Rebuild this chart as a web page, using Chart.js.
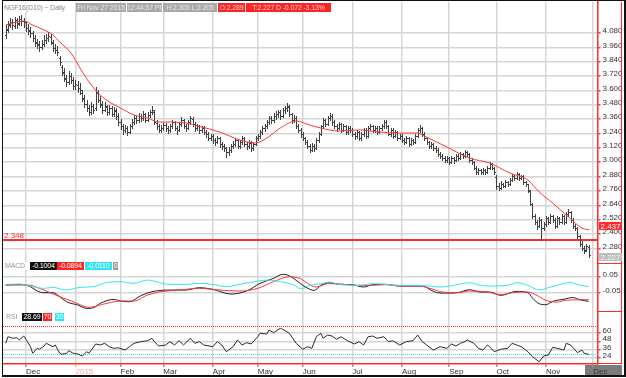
<!DOCTYPE html>
<html>
<head>
<meta charset="utf-8">
<title>NGF16 Daily</title>
<script src="https://cdn.jsdelivr.net/npm/chart.js@4.4.1/dist/chart.umd.min.js"></script>
<style>
  html, body { margin: 0; padding: 0; background: #fff; }
  #wrap { position: relative; width: 626px; height: 378px; overflow: hidden; font-family: "Liberation Sans", Arial, sans-serif; }
  canvas { position: absolute; left: 0; }
  #cPrice { top: 0; }
  #cMacd { top: 264px; }
  #cRsi { top: 312px; }
  .tag { position: absolute; height: 9px; line-height: 9px; font-size: 7px; letter-spacing: -0.15px; white-space: nowrap; overflow: hidden;
         text-align: center; z-index: 3; font-family: "Liberation Sans", Arial, sans-serif; }
  .grey { background: #a9a9a9; color: #e8e8e8; }
  .red { background: #ff2323; color: #ffd2d2; }
  .sub { height: 8px; line-height: 8px; color: #fff; }
  #decBox { position: absolute; left: 585px; top: 365px; width: 37px; height: 10px; background: #7b7b7b; }
  #frame { position: absolute; left: 2px; top: 0; width: 624px; height: 377px; box-sizing: border-box;
           border: 1px solid #111; border-right-width: 2px; border-bottom-width: 2px; z-index: 10; pointer-events: none; }
</style>
</head>
<body>
<div id="wrap">
  <div id="decBox"></div>
  <canvas id="cPrice" width="626" height="264"></canvas>
  <canvas id="cMacd" width="626" height="48"></canvas>
  <canvas id="cRsi" width="626" height="66"></canvas>

  <div class="tag" style="left:4px;top:3px;width:71px;color:#8a8a8a;background:#fff;text-align:left">NGF16(D10) ~ Daily</div>
  <div class="tag grey" style="left:76px;top:3px;width:50px">Fri Nov 27 2015</div>
  <div class="tag grey" style="left:127px;top:3px;width:35px">12:44:57 PM</div>
  <div class="tag grey" style="left:163px;top:3px;width:54px">H:2.305 L:2.205</div>
  <div class="tag red" style="left:218px;top:3px;width:27px">O:2.289</div>
  <div class="tag red" style="left:246px;top:3px;width:85px">T:2.227 D -0.072 -3.13%</div>

  <div class="tag sub" style="left:5px;top:262px;width:24px;color:#9a9a9a;text-align:left;background:#fff">MACD</div>
  <div class="tag sub" id="tMacd" style="left:30px;top:262px;width:27px;background:#111"></div>
  <div class="tag sub" id="tSig" style="left:57px;top:262px;width:27px;background:#ff2323"></div>
  <div class="tag sub" id="tHist" style="left:85px;top:262px;width:27px;background:#2ee6f0"></div>
  <div class="tag sub" style="left:113px;top:262px;width:5px;background:#9a9a9a">0</div>

  <div class="tag sub" style="left:6px;top:313px;width:14px;color:#9a9a9a;text-align:left;background:#fff">RSI</div>
  <div class="tag sub" id="tRsi" style="left:22px;top:313px;width:20px;background:#111"></div>
  <div class="tag sub" id="tHi" style="left:43px;top:313px;width:9px;background:#ff2323"></div>
  <div class="tag sub" id="tLo" style="left:55px;top:313px;width:9px;background:#2ee6f0"></div>

  <div id="frame"></div>
</div>
<script>
// month starts (bar index) and their labels
const monthTicks = [9, 31, 51, 70, 92, 112, 132, 154, 176, 197, 218, 240, 261];
const monthLabels = ['Dec', '2015', 'Feb', 'Mar', 'Apr', 'May', 'Jun', 'Jul', 'Aug', 'Sep', 'Oct', 'Nov', 'Dec'];

const priceTicks = [2.28, 2.40, 2.52, 2.64, 2.76, 2.88, 3.00, 3.12, 3.24, 3.36, 3.48, 3.60, 3.72, 3.84, 3.96, 4.08];
const macdTicks = [0.05, 0, -0.05, -0.1];
const rsiTicks = [60, 48, 36, 24];

// daily bars, Nov 17 2014 .. Nov 27 2015
const opens = [
  4.060,4.110,4.150,4.175,4.140,4.190,4.160,4.195,4.180,4.170,
  4.120,4.100,4.080,4.040,4.000,3.985,3.960,3.990,4.020,4.040,
  4.050,4.000,3.955,3.940,3.870,3.800,3.750,3.700,3.670,3.725,
  3.690,3.640,3.650,3.620,3.580,3.530,3.490,3.450,3.420,3.470,
  3.450,3.580,3.520,3.480,3.440,3.465,3.420,3.450,3.400,3.430,
  3.390,3.335,3.300,3.270,3.285,3.255,3.300,3.335,3.370,3.355,
  3.385,3.370,3.400,3.355,3.395,3.420,3.420,3.330,3.300,3.270,
  3.285,3.310,3.285,3.270,3.300,3.335,3.285,3.270,3.320,3.350,
  3.300,3.290,3.335,3.365,3.320,3.285,3.300,3.270,3.285,3.250,
  3.235,3.200,3.220,3.185,3.170,3.200,3.150,3.135,3.115,3.085,
  3.100,3.135,3.150,3.185,3.135,3.170,3.200,3.150,3.135,3.165,
  3.120,3.150,3.200,3.220,3.250,3.285,3.300,3.335,3.370,3.350,
  3.385,3.400,3.420,3.385,3.435,3.455,3.465,3.400,3.350,3.370,
  3.300,3.270,3.235,3.200,3.170,3.135,3.100,3.135,3.120,3.185,
  3.235,3.300,3.350,3.320,3.370,3.385,3.335,3.300,3.285,3.320,
  3.270,3.300,3.255,3.285,3.270,3.235,3.220,3.250,3.205,3.235,
  3.270,3.220,3.285,3.300,3.270,3.285,3.255,3.285,3.305,3.335,
  3.300,3.235,3.270,3.220,3.250,3.205,3.220,3.185,3.170,3.200,
  3.150,3.185,3.170,3.220,3.270,3.285,3.235,3.200,3.170,3.135,
  3.150,3.120,3.100,3.070,3.050,3.035,3.020,3.035,3.005,3.035,
  3.020,3.050,3.035,3.070,3.050,3.085,3.070,3.020,3.000,2.955,
  2.915,2.935,2.915,2.935,2.920,2.950,2.985,2.950,2.880,2.800,
  2.785,2.815,2.800,2.835,2.820,2.850,2.885,2.870,2.900,2.870,
  2.885,2.835,2.815,2.760,2.650,2.550,2.500,2.470,2.515,2.450,
  2.485,2.530,2.500,2.550,2.515,2.470,2.535,2.500,2.550,2.500,
  2.565,2.585,2.515,2.465,2.450,2.380,2.315,2.285,2.265,2.289
];
const highs = [
  4.150,4.180,4.205,4.195,4.215,4.210,4.220,4.235,4.210,4.185,
  4.160,4.130,4.095,4.060,4.030,4.010,4.020,4.060,4.075,4.090,
  4.070,4.020,3.985,3.970,3.885,3.815,3.790,3.730,3.760,3.750,
  3.710,3.690,3.680,3.660,3.600,3.560,3.520,3.480,3.500,3.490,
  3.630,3.600,3.550,3.510,3.500,3.480,3.480,3.470,3.460,3.450,
  3.410,3.360,3.320,3.310,3.300,3.320,3.360,3.395,3.390,3.410,
  3.400,3.425,3.415,3.420,3.440,3.470,3.440,3.350,3.320,3.310,
  3.330,3.325,3.300,3.320,3.355,3.345,3.300,3.335,3.375,3.365,
  3.320,3.350,3.390,3.380,3.335,3.320,3.315,3.305,3.300,3.270,
  3.250,3.240,3.235,3.200,3.220,3.210,3.170,3.150,3.130,3.125,
  3.155,3.175,3.205,3.195,3.185,3.220,3.210,3.170,3.185,3.180,
  3.170,3.220,3.240,3.270,3.305,3.320,3.355,3.390,3.385,3.410,
  3.425,3.440,3.435,3.455,3.470,3.495,3.480,3.415,3.395,3.385,
  3.320,3.285,3.255,3.215,3.185,3.150,3.160,3.150,3.200,3.250,
  3.315,3.370,3.365,3.390,3.410,3.400,3.350,3.320,3.340,3.330,
  3.320,3.315,3.300,3.300,3.285,3.250,3.270,3.265,3.255,3.285,
  3.285,3.300,3.320,3.315,3.300,3.300,3.300,3.320,3.355,3.350,
  3.315,3.285,3.285,3.270,3.265,3.240,3.235,3.200,3.220,3.215,
  3.200,3.195,3.235,3.290,3.310,3.295,3.250,3.215,3.180,3.170,
  3.160,3.135,3.115,3.085,3.070,3.050,3.055,3.045,3.050,3.045,
  3.070,3.065,3.085,3.080,3.100,3.095,3.080,3.035,3.010,2.965,
  2.950,2.945,2.950,2.945,2.965,3.000,2.995,2.960,2.890,2.830,
  2.840,2.830,2.850,2.845,2.865,2.900,2.895,2.915,2.910,2.895,
  2.890,2.845,2.820,2.770,2.660,2.570,2.520,2.540,2.525,2.500,
  2.550,2.545,2.570,2.560,2.530,2.550,2.545,2.570,2.560,2.585,
  2.605,2.595,2.530,2.480,2.455,2.395,2.340,2.300,2.320,2.305
];
const lows = [
  4.040,4.090,4.130,4.110,4.125,4.120,4.145,4.150,4.130,4.095,
  4.070,4.050,4.010,3.970,3.955,3.930,3.945,3.975,3.995,4.010,
  3.985,3.930,3.915,3.895,3.810,3.730,3.680,3.640,3.655,3.660,
  3.610,3.615,3.590,3.570,3.510,3.460,3.430,3.395,3.405,3.415,
  3.440,3.500,3.460,3.410,3.425,3.395,3.400,3.385,3.390,3.360,
  3.310,3.280,3.240,3.250,3.230,3.245,3.290,3.320,3.330,3.340,
  3.345,3.355,3.335,3.345,3.375,3.400,3.320,3.280,3.250,3.255,
  3.270,3.265,3.245,3.255,3.290,3.270,3.240,3.260,3.305,3.290,
  3.265,3.280,3.320,3.305,3.265,3.270,3.245,3.255,3.235,3.215,
  3.185,3.190,3.165,3.145,3.160,3.130,3.110,3.090,3.045,3.060,
  3.085,3.115,3.135,3.115,3.120,3.155,3.135,3.110,3.120,3.095,
  3.105,3.140,3.185,3.205,3.235,3.260,3.285,3.320,3.330,3.340,
  3.365,3.380,3.365,3.375,3.410,3.430,3.385,3.330,3.335,3.285,
  3.250,3.215,3.185,3.150,3.115,3.085,3.090,3.095,3.110,3.170,
  3.225,3.290,3.300,3.310,3.350,3.315,3.285,3.265,3.275,3.255,
  3.260,3.240,3.240,3.250,3.220,3.195,3.205,3.185,3.190,3.220,
  3.205,3.210,3.270,3.255,3.255,3.240,3.245,3.270,3.290,3.285,
  3.225,3.220,3.205,3.210,3.190,3.195,3.170,3.150,3.160,3.135,
  3.140,3.150,3.160,3.210,3.255,3.220,3.185,3.150,3.120,3.120,
  3.100,3.085,3.055,3.035,3.020,3.000,3.005,2.985,2.995,2.995,
  3.010,3.015,3.025,3.035,3.040,3.050,3.005,2.985,2.940,2.905,
  2.905,2.900,2.905,2.900,2.910,2.940,2.940,2.905,2.780,2.770,
  2.775,2.790,2.790,2.800,2.810,2.840,2.850,2.860,2.855,2.860,
  2.820,2.800,2.755,2.640,2.530,2.480,2.445,2.455,2.348,2.430,
  2.470,2.480,2.490,2.500,2.450,2.460,2.485,2.490,2.480,2.490,
  2.550,2.500,2.450,2.430,2.370,2.300,2.270,2.245,2.255,2.205
];
const closes = [
  4.106,4.156,4.173,4.147,4.189,4.164,4.198,4.181,4.173,4.122,
  4.106,4.081,4.039,4.005,3.980,3.964,3.989,4.022,4.039,4.055,
  4.005,3.955,3.938,3.922,3.838,3.754,3.704,3.671,3.721,3.688,
  3.637,3.654,3.621,3.604,3.537,3.487,3.454,3.420,3.470,3.437,
  3.587,3.520,3.487,3.437,3.470,3.420,3.454,3.403,3.437,3.387,
  3.336,3.303,3.270,3.286,3.253,3.303,3.336,3.370,3.353,3.387,
  3.370,3.403,3.353,3.395,3.420,3.437,3.336,3.303,3.270,3.286,
  3.311,3.286,3.270,3.303,3.336,3.286,3.270,3.320,3.353,3.303,
  3.286,3.336,3.370,3.320,3.286,3.303,3.270,3.286,3.253,3.236,
  3.203,3.219,3.186,3.169,3.203,3.152,3.136,3.119,3.086,3.102,
  3.136,3.152,3.186,3.136,3.169,3.203,3.152,3.136,3.169,3.119,
  3.152,3.203,3.219,3.253,3.286,3.303,3.336,3.370,3.353,3.387,
  3.403,3.420,3.387,3.437,3.454,3.470,3.403,3.353,3.370,3.303,
  3.270,3.236,3.203,3.169,3.136,3.102,3.136,3.119,3.186,3.236,
  3.303,3.353,3.320,3.370,3.387,3.336,3.303,3.286,3.320,3.270,
  3.303,3.253,3.286,3.270,3.236,3.219,3.253,3.203,3.236,3.270,
  3.219,3.286,3.303,3.270,3.286,3.253,3.286,3.303,3.336,3.303,
  3.236,3.270,3.219,3.253,3.203,3.219,3.186,3.169,3.203,3.152,
  3.186,3.169,3.219,3.270,3.286,3.236,3.203,3.169,3.136,3.152,
  3.119,3.102,3.069,3.052,3.035,3.019,3.035,3.002,3.035,3.019,
  3.052,3.035,3.069,3.052,3.086,3.069,3.019,3.002,2.952,2.918,
  2.935,2.918,2.935,2.918,2.952,2.985,2.952,2.918,2.801,2.785,
  2.818,2.801,2.835,2.818,2.852,2.885,2.868,2.902,2.868,2.885,
  2.835,2.818,2.768,2.651,2.551,2.500,2.467,2.517,2.450,2.484,
  2.534,2.500,2.551,2.517,2.467,2.534,2.500,2.551,2.500,2.567,
  2.584,2.517,2.467,2.450,2.383,2.316,2.283,2.262,2.299,2.227
];

// moving average (red), read at these bar indices
const maIdx = [0, 3, 8, 12, 17, 21, 24, 29, 33, 37, 42, 46, 51, 57, 63, 68, 74, 80, 86, 95, 104, 111, 116, 122, 129, 135, 140, 148, 157, 166, 175, 183, 185, 196, 206, 215, 224, 232, 237, 243, 249, 257, 259];
const maVal = [4.147, 4.164, 4.181, 4.147, 4.106, 4.064, 4.005, 3.913, 3.788, 3.671, 3.562, 3.504, 3.454, 3.395, 3.370, 3.336, 3.336, 3.328, 3.300, 3.253, 3.186, 3.161, 3.203, 3.286, 3.345, 3.311, 3.286, 3.261, 3.270, 3.253, 3.244, 3.244, 3.228, 3.127, 3.035, 2.993, 2.910, 2.851, 2.751, 2.659, 2.559, 2.442, 2.437];
const supportLevel = 2.348;

// MACD panel
const macdIdx = [0, 6, 11, 14, 17, 21, 24, 27, 32, 36, 39, 42, 48, 51, 55, 60, 65, 73, 80, 86, 92, 100, 107, 113, 119, 123, 126, 131, 134, 137, 140, 144, 148, 154, 159, 163, 169, 175, 181, 185, 190, 193, 199, 202, 206, 211, 215, 220, 227, 232, 234, 237, 240, 243, 248, 252, 255, 259];
const macdVal = [-0.002, 0.002, -0.012, -0.038, -0.048, -0.048, -0.072, -0.102, -0.122, -0.142, -0.138, -0.112, -0.088, -0.098, -0.102, -0.066, -0.042, -0.032, -0.032, -0.018, -0.028, -0.056, -0.038, 0.008, 0.038, 0.062, 0.054, 0.006, -0.020, -0.034, -0.004, 0.012, 0.002, 0.000, -0.014, 0.000, 0.002, -0.008, -0.008, -0.008, -0.040, -0.050, -0.050, -0.044, -0.030, -0.044, -0.044, -0.064, -0.040, -0.048, -0.080, -0.114, -0.120, -0.100, -0.087, -0.077, -0.090, -0.1004];
const sigIdx = [0, 10, 15, 24, 30, 37, 43, 51, 57, 63, 69, 77, 86, 95, 104, 112, 119, 126, 131, 135, 138, 143, 149, 156, 162, 169, 175, 184, 189, 194, 201, 206, 214, 220, 225, 232, 236, 240, 245, 249, 254, 259];
const sigVal = [-0.002, -0.002, -0.022, -0.072, -0.102, -0.136, -0.118, -0.098, -0.098, -0.062, -0.042, -0.032, -0.022, -0.032, -0.038, -0.022, 0.018, 0.048, 0.036, 0.000, -0.014, 0.006, 0.004, -0.004, -0.004, 0.000, -0.008, -0.008, -0.024, -0.044, -0.048, -0.038, -0.044, -0.060, -0.048, -0.044, -0.064, -0.094, -0.104, -0.093, -0.091, -0.0894];
const histIdx = [0, 6, 12, 17, 21, 27, 33, 39, 45, 51, 57, 63, 67, 72, 80, 86, 92, 98, 104, 112, 116, 122, 128, 131, 135, 140, 144, 148, 157, 163, 169, 175, 184, 193, 199, 206, 211, 216, 223, 227, 232, 237, 242, 246, 251, 254, 259];
const histVal = [0.002, 0.004, -0.012, -0.022, -0.016, -0.032, -0.016, -0.012, 0.014, 0.018, 0.008, 0.028, 0.018, 0.002, 0.002, 0.008, 0.002, -0.012, 0.002, 0.022, 0.028, 0.018, -0.002, -0.024, -0.004, 0.006, 0.016, 0.002, -0.004, 0.006, 0.002, -0.004, -0.004, -0.014, -0.004, 0.012, -0.004, -0.008, -0.004, 0.012, -0.004, -0.032, -0.014, 0.000, 0.013, 0.000, -0.011];

// RSI panel
const rsiIdx = [0,1,3,5,6,8,9,11,12,14,15,17,18,21,22,24,25,27,28,30,32,34,36,37,40,42,44,46,48,50,53,55,57,60,63,65,66,68,71,73,75,77,79,82,84,86,88,92,94,96,98,101,103,105,107,109,112,113,116,117,119,122,123,126,129,132,134,136,138,140,141,143,145,147,149,152,155,157,159,161,163,165,168,170,172,175,178,181,183,185,187,190,193,196,198,200,202,204,205,208,210,212,214,215,217,220,223,225,227,229,232,234,235,237,239,241,243,245,248,249,251,254,256,257,259];
const rsiVal = [45.0,54.7,52.4,53.2,49.9,55.7,50.9,40.0,30.3,37.6,36.2,41.0,45.0,40.0,42.5,30.3,28.8,30.3,34.1,30.3,29.3,26.3,32.6,30.3,44.0,42.5,45.0,40.0,37.6,38.5,35.1,40.0,45.0,47.4,48.8,52.4,47.4,41.0,42.5,47.4,42.5,48.8,42.5,52.4,45.0,47.4,42.5,40.0,47.4,42.5,32.6,40.0,49.9,42.5,45.9,44.0,54.7,59.7,58.7,64.6,60.6,67.1,65.6,59.7,45.0,36.2,40.0,37.6,54.7,59.7,52.4,57.2,55.7,50.9,54.7,48.4,44.0,47.4,42.5,54.7,55.7,52.4,54.7,47.4,48.8,42.5,47.4,48.8,57.2,47.4,42.5,35.1,40.0,37.6,44.0,41.0,45.0,47.4,49.9,45.0,37.6,35.1,42.5,40.0,32.6,36.2,37.6,45.0,42.5,40.0,32.6,25.3,22.9,17.9,26.3,27.8,39.1,37.6,35.1,45.0,42.5,31.2,35.1,30.3,28.69];
const rsiLevels = [70, 30];

const FAMILY = "'Liberation Sans', Arial, sans-serif";
const FONT = { family: FAMILY, size: 8 };
const GRID = '#d5d5d5';
const RED = '#ff2b2b';
const CYAN = '#2ee6f0';
const BAR = '#404040';
const X_MIN = -1.2, X_MAX = 262.9;

const pts = (idx, vals) => idx.map((x, k) => ({ x: x, y: vals[k] }));

function xAxis(withLabels) {
  return {
    type: 'linear', min: X_MIN, max: X_MAX, offset: false,
    afterBuildTicks: s => { s.ticks = monthTicks.map(v => ({ value: v })); },
    afterFit: s => { s.height = withLabels ? 12 : 0; s.paddingLeft = 0; s.paddingRight = 0; },
    grid: {
      color: GRID, lineWidth: 1.5, drawTicks: withLabels, tickLength: 3,
      tickColor: c => (c.index === 1 ? '#f0c040' : '#999')
    },
    border: { display: withLabels, color: RED, width: 1.5 },
    ticks: {
      display: withLabels, autoSkip: false, maxRotation: 0, align: 'start', padding: 0,
      font: FONT, color: c => (c.index === 1 ? '#f4a6a6' : '#333'),
      callback: (v, i) => monthLabels[i]
    }
  };
}

function yAxis(min, max, values, fmt, gridColor) {
  return {
    position: 'right', min: min, max: max,
    afterBuildTicks: s => { s.ticks = values.map(v => ({ value: v })); },
    afterFit: s => { s.width = 28.5; s.paddingTop = 0; s.paddingBottom = 0; },
    grid: { color: gridColor || GRID, lineWidth: 1.5, drawTicks: true, tickLength: 3, tickColor: RED },
    border: { color: RED, width: 1.5 },
    ticks: { font: FONT, color: '#333', padding: 2, labelOffset: -2, callback: fmt }
  };
}

// red frame around the value axis of each panel
const axisBox = {
  id: 'axisBox',
  afterDraw(chart) {
    const { ctx, chartArea: a, scales: { y } } = chart;
    ctx.save();
    ctx.strokeStyle = RED; ctx.lineWidth = 1;
    ctx.beginPath();
    ctx.moveTo(621.5, a.top); ctx.lineTo(621.5, a.bottom);
    ctx.moveTo(y.left, a.bottom - 0.5); ctx.lineTo(621.5, a.bottom - 0.5);
    ctx.stroke();
    ctx.restore();
  }
};

// OHLC bars and the support line
const ohlcBars = {
  id: 'ohlcBars',
  beforeDatasetsDraw(chart) {
    const { ctx, chartArea: a, scales: { x, y } } = chart;
    ctx.save();
    ctx.beginPath(); ctx.rect(a.left, a.top, a.right - a.left, a.bottom - a.top); ctx.clip();
    const sy = Math.round(y.getPixelForValue(supportLevel));
    ctx.fillStyle = RED;
    ctx.fillRect(a.left, sy - 1, a.right - a.left, 2);
    ctx.fillStyle = BAR;
    closes.forEach((c, i) => {
      const px = Math.round(x.getPixelForValue(i));
      const hy = Math.round(y.getPixelForValue(highs[i]));
      const ly = Math.round(y.getPixelForValue(lows[i]));
      ctx.fillRect(px, hy, 1, Math.max(1, ly - hy + 1));
      ctx.fillRect(px - 1, Math.round(y.getPixelForValue(opens[i])), 1, 1);
      ctx.fillRect(px + 1, Math.round(y.getPixelForValue(c)), 1, 1);
    });
    ctx.restore();
  }
};

// level label and the value tags on the price axis
const priceMarks = {
  id: 'priceMarks',
  afterDraw(chart) {
    const { ctx, chartArea: a, scales: { y } } = chart;
    ctx.save();
    ctx.font = '8px ' + FAMILY;
    ctx.fillStyle = RED;
    ctx.textBaseline = 'alphabetic';
    ctx.fillText(supportLevel.toFixed(3), a.left + 1, Math.round(y.getPixelForValue(supportLevel)) - 2);

    const tag = (v, bg, fg, shift) => {
      const cy = Math.round(y.getPixelForValue(v) + shift);
      ctx.fillStyle = bg;
      ctx.fillRect(y.left + 1.5, cy - 4, 23, 8);
      ctx.fillStyle = fg;
      ctx.textBaseline = 'middle';
      ctx.fillText(v.toFixed(3), y.left + 3, cy + 0.5);
    };
    tag(maVal[maVal.length - 1], RED, '#fff', -3.5);
    tag(closes[closes.length - 1], '#bdbdbd', '#f6f6f6', 2);
    ctx.restore();
  }
};

// RSI 70 / 30 dotted levels
const rsiBands = {
  id: 'rsiBands',
  beforeDatasetsDraw(chart) {
    const { ctx, chartArea: a, scales: { y } } = chart;
    const colors = [RED, CYAN];
    ctx.save();
    ctx.lineWidth = 1;
    ctx.setLineDash([1, 1]);
    rsiLevels.forEach((lv, k) => {
      const py = Math.round(y.getPixelForValue(lv)) + 0.5;
      ctx.strokeStyle = colors[k];
      ctx.beginPath(); ctx.moveTo(a.left, py); ctx.lineTo(a.right, py); ctx.stroke();
    });
    ctx.restore();
  }
};

const base = {
  responsive: false, animation: false, events: [],
  plugins: { legend: { display: false }, tooltip: { enabled: false } }
};

new Chart(document.getElementById('cPrice'), {
  type: 'line',
  data: {
    datasets: [{
      data: pts(maIdx, maVal), borderColor: '#ff3535', borderWidth: 1,
      pointRadius: 0, cubicInterpolationMode: 'monotone'
    }]
  },
  options: Object.assign({}, base, {
    layout: { padding: { top: 2, left: 3, right: 0, bottom: 0 } },
    scales: { x: xAxis(false), y: yAxis(2.1492, 4.3398, priceTicks, v => v.toFixed(3)) }
  }),
  plugins: [ohlcBars, axisBox, priceMarks]
});

new Chart(document.getElementById('cMacd'), {
  type: 'line',
  data: {
    datasets: [
      { data: pts(histIdx, histVal), borderColor: CYAN, borderWidth: 1, pointRadius: 0, cubicInterpolationMode: 'monotone' },
      { data: pts(sigIdx, sigVal), borderColor: '#ff3535', borderWidth: 1, pointRadius: 0, cubicInterpolationMode: 'monotone' },
      { data: pts(macdIdx, macdVal), borderColor: '#1e1e1e', borderWidth: 1, pointRadius: 0, cubicInterpolationMode: 'monotone' }
    ]
  },
  options: Object.assign({}, base, {
    layout: { padding: { top: 0, left: 3, right: 0, bottom: 0 } },
    scales: {
      x: xAxis(false),
      y: yAxis(-0.1638, 0.1242, macdTicks, v => String(+v.toFixed(2)),
        c => (c.tick && c.tick.value === 0 ? '#b5b5b5' : GRID))
    }
  }),
  plugins: [axisBox]
});

new Chart(document.getElementById('cRsi'), {
  type: 'line',
  data: {
    datasets: [{ data: pts(rsiIdx, rsiVal), borderColor: '#2a2a2a', borderWidth: 1, pointRadius: 0, tension: 0 }]
  },
  options: Object.assign({}, base, {
    layout: { padding: { top: 0, left: 3, right: 0, bottom: 2 } },
    scales: { x: xAxis(true), y: yAxis(14.56, 91.03, rsiTicks, v => String(v)) }
  }),
  plugins: [rsiBands, axisBox]
});

// panel legends
document.getElementById('tMacd').textContent = macdVal[macdVal.length - 1].toFixed(4);
document.getElementById('tSig').textContent = sigVal[sigVal.length - 1].toFixed(4);
document.getElementById('tHist').textContent = histVal[histVal.length - 1].toFixed(4);
document.getElementById('tRsi').textContent = rsiVal[rsiVal.length - 1].toFixed(2);
document.getElementById('tHi').textContent = rsiLevels[0];
document.getElementById('tLo').textContent = rsiLevels[1];
</script>
</body>
</html>
